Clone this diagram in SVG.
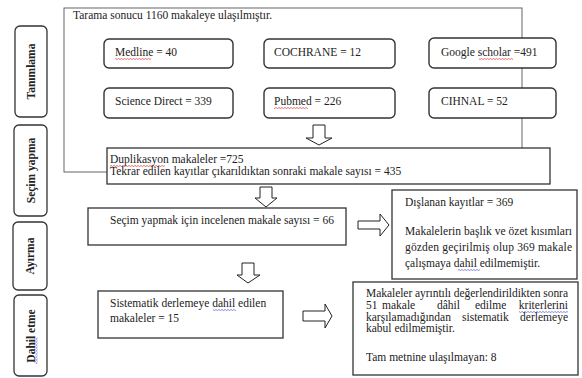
<svg xmlns="http://www.w3.org/2000/svg" width="582" height="378" viewBox="0 0 582 378" font-family="Liberation Serif, Times New Roman, serif">
<style>
text{font-family:"Liberation Serif","Times New Roman",serif;font-size:11.5px;fill:#222}
.side{font-weight:bold;font-size:11.5px}
.rb{fill:#fff;stroke:#333;stroke-width:1.4}
.sb{fill:#fff;stroke:#333;stroke-width:1.3}
.bx{fill:#fff;stroke:#333;stroke-width:1.3}
.arr{fill:#fff;stroke:#222;stroke-width:1}
</style>
<defs>
<pattern id="wr" width="3" height="2" patternUnits="userSpaceOnUse"><path d="M0,1.5 L1.5,0.5 L3,1.5" fill="none" stroke="#e03030" stroke-width="0.7"/></pattern>
<pattern id="wb" width="3" height="2" patternUnits="userSpaceOnUse"><path d="M0,1.5 L1.5,0.5 L3,1.5" fill="none" stroke="#4a5ad8" stroke-width="0.7"/></pattern>
<pattern id="wbv" width="2" height="3" patternUnits="userSpaceOnUse"><path d="M0.5,0 L1.5,1.5 L0.5,3" fill="none" stroke="#4a5ad8" stroke-width="0.7"/></pattern>
</defs>
<rect width="582" height="378" fill="#fff"/>

<g id="side-labels">
<g id="tanimlama"><rect class="sb" x="15" y="26" width="32" height="91" rx="5"/><text class="side" transform="translate(31,71.5) rotate(-90)" text-anchor="middle" y="4">Tanımlama</text></g>
<g id="secim-yapma"><rect class="sb" x="14" y="125" width="33" height="91" rx="5"/><text class="side" transform="translate(30.5,170.5) rotate(-90)" text-anchor="middle" y="4">Seçim yapma</text></g>
<g id="ayirma"><rect class="sb" x="13" y="222" width="34" height="68" rx="5"/><text class="side" transform="translate(30,256) rotate(-90)" text-anchor="middle" y="4">Ayırma</text></g>
<g id="dahil-etme"><rect class="sb" x="14" y="295" width="33" height="81" rx="5"/><text class="side" transform="translate(30.5,336) rotate(-90)" text-anchor="middle" y="4">Dahil etme</text><rect x="35.5" y="337" width="2" height="27" fill="url(#wbv)"/></g>
</g>

<g id="search-frame">
<rect x="64" y="8" width="458" height="164" fill="none" stroke="#555" stroke-width="0.9"/>
<text x="73" y="19">Tarama sonucu 1160 makaleye ulaşılmıştır.</text>
</g>

<g id="databases">
<g id="medline"><rect class="rb" x="104" y="39" width="129" height="29" rx="5"/><text x="115" y="56">Medline = 40</text><rect x="115" y="58" width="36" height="2" fill="url(#wr)"/></g>
<g id="cochrane"><rect class="rb" x="264" y="39" width="131" height="29" rx="5"/><text x="274" y="56">COCHRANE = 12</text></g>
<g id="google"><rect class="rb" x="429" y="38" width="127" height="30" rx="5"/><text x="441" y="56">Google scholar =491</text><rect x="479" y="58" width="34" height="2" fill="url(#wr)"/></g>
<g id="science"><rect class="rb" x="104" y="88" width="129" height="30" rx="5"/><text x="115" y="105">Science Direct = 339</text></g>
<g id="pubmed"><rect class="rb" x="264" y="88" width="131" height="30" rx="5"/><text x="274" y="105">Pubmed = 226</text><rect x="274" y="107" width="34" height="2" fill="url(#wr)"/></g>
<g id="cihnal"><rect class="rb" x="429" y="88" width="127" height="30" rx="5"/><text x="441" y="105">CIHNAL = 52</text></g>
</g>

<g id="connectors">
<path class="arr" d="M313,125 H325 V138 H332 L319,145 L306,138 H313 Z"/>
<path class="arr" d="M260,187 H272 V198 H277 L266,207 L255,198 H260 Z"/>
<path class="arr" d="M242,263 H254 V275 H260 L248,283 L237,275 H242 Z"/>
<path class="arr" d="M358,221 H380 V214 L389,225 L380,236 V229 H358 Z"/>
<path class="arr" d="M303,311 H325 V304 L332,316 L325,328 V321 H303 Z"/>
</g>

<g id="duplikasyon">
<rect class="bx" x="107" y="148" width="443" height="36"/>
<text x="110" y="163">Duplikasyon makaleler =725</text>
<rect x="110" y="165" width="55" height="2" fill="url(#wr)"/>
<text x="110" y="175">Tekrar edilen kayıtlar çıkarıldıktan sonraki makale sayısı = 435</text>
</g>

<g id="secim">
<rect class="bx" x="88" y="208" width="258" height="37"/>
<text x="110" y="224">Seçim yapmak için incelenen makale sayısı = 66</text>
</g>

<g id="dislanan">
<rect class="bx" x="392" y="190" width="185" height="89"/>
<text x="405" y="206">Dışlanan kayıtlar = 369</text>
<text x="405" y="235" textLength="167" lengthAdjust="spacing">Makalelerin başlık ve özet kısımları</text>
<text x="405" y="251" textLength="167" lengthAdjust="spacing">gözden geçirilmiş olup 369 makale</text>
<text x="405" y="267">çalışmaya dahil edilmemiştir.</text>
<rect x="458" y="269" width="22" height="2" fill="url(#wb)"/>
</g>

<g id="sistematik">
<rect class="bx" x="98" y="291" width="185" height="47"/>
<text x="110" y="307">Sistematik derlemeye dahil edilen</text>
<rect x="213" y="309" width="23" height="2" fill="url(#wb)"/>
<text x="110" y="322">makaleler = 15</text>
</g>

<g id="degerlendirme">
<rect class="bx" x="353" y="282" width="225" height="93"/>
<text x="366" y="297" textLength="202" lengthAdjust="spacing">Makaleler ayrıntılı değerlendirildikten sonra</text>
<text y="309"><tspan x="366">51</tspan><tspan x="382">makale</tspan><tspan x="437">dâhil</tspan><tspan x="475">edilme</tspan><tspan x="568" text-anchor="end">kriterlerini</tspan></text>
<rect x="519" y="311" width="49" height="2" fill="url(#wb)"/>
<text y="321"><tspan x="366">karşılamadığından</tspan><tspan x="462">sistematik</tspan><tspan x="568" text-anchor="end">derlemeye</tspan></text>
<text x="366" y="332">kabul edilmemiştir.</text>
<text x="366" y="361">Tam metnine ulaşılmayan: 8</text>
</g>
</svg>
